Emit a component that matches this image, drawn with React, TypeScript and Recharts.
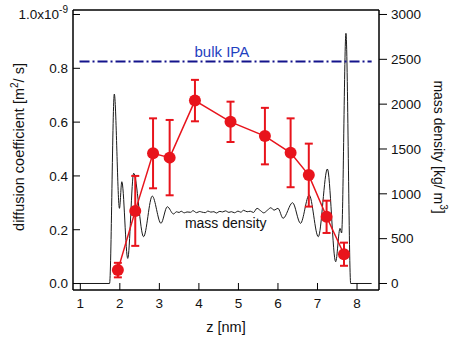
import {
  ComposedChart,
  Line,
  XAxis,
  YAxis,
  ErrorBar,
  Label,
  ReferenceDot,
} from 'recharts'

// diffusion coefficient, units of 1e-9 m^2/s
const Z_DIFF = [1.95, 2.39, 2.84, 3.26, 3.9, 4.8, 5.67, 6.32, 6.78, 7.23, 7.67]
const DIFF = [0.05, 0.27, 0.484, 0.468, 0.68, 0.601, 0.548, 0.486, 0.403, 0.248, 0.109]
const DIFF_ERR = [0.027, 0.13, 0.13, 0.14, 0.077, 0.075, 0.105, 0.128, 0.117, 0.06, 0.043]

// mass density profile, kg/m^3
const Z_DENS = [
  0.95, 1.74, 1.86, 1.99, 2.05, 2.2, 2.35, 2.6, 2.82, 3.04, 3.2, 3.36, 3.43, 3.5, 3.55, 3.63,
  3.7, 3.79, 3.85, 3.94, 4.02, 4.07, 4.16, 4.23, 4.3, 4.38, 4.44, 4.53, 4.6, 4.67, 4.76, 4.82,
  4.9, 4.99, 5.06, 5.13, 5.22, 5.3, 5.38, 5.47, 5.56, 5.64, 5.74, 5.82, 5.9, 6.0, 6.13, 6.37,
  6.57, 6.79, 7.02, 7.25, 7.46, 7.57, 7.61, 7.72, 7.84, 8.37,
]
const DENS = [
  0, 0, 2113, 838, 1135, 280, 1229, 522, 975, 671, 856, 775, 800, 792, 806, 788,
  798, 794, 812, 790, 803, 797, 790, 808, 796, 801, 786, 804, 798, 810, 793, 801,
  789, 807, 795, 816, 800, 806, 792, 838, 812, 788, 820, 845, 818, 838, 727, 901,
  671, 987, 522, 1277, 243, 615, 563, 2790, 0, 0,
]

const BULK_IPA = 0.825
const BULK_RANGE = [0.98, 8.37]

const X_TICKS = [1, 2, 3, 4, 5, 6, 7, 8]
const LEFT_TICKS = [0, 0.2, 0.4, 0.6, 0.8, 1.0]
const RIGHT_TICKS = [0, 500, 1000, 1500, 2000, 2500, 3000]

const diffData = Z_DIFF.map((z, i) => ({ z, d: DIFF[i], err: DIFF_ERR[i] }))
const densData = Z_DENS.map((z, i) => ({ z, rho: DENS[i] }))
const bulkData = BULK_RANGE.map((z) => ({ z, d: BULK_IPA }))

const FONT = '"Liberation Sans", Arial, sans-serif'
const RED = '#e8141c'
const TICK_FS = 13.5

function LeftTick(props: any) {
  const { x, y, payload } = props
  const v = payload.value as number
  if (v === 1) {
    return (
      <text x={x} y={y} dy="0.36em" textAnchor="end" fontSize={TICK_FS} fontFamily={FONT} fill="#111">
        1.0x10
        <tspan dy={-6} fontSize={10}>-9</tspan>
      </text>
    )
  }
  return (
    <text x={x} y={y} dy="0.36em" textAnchor="end" fontSize={TICK_FS} fontFamily={FONT} fill="#111">
      {v.toFixed(1)}
    </text>
  )
}

export default function App() {
  return (
    <div>
      <style>{'body{margin:0}'}</style>
      <ComposedChart width={458} height={341} margin={{ top: 9, right: 0, left: 0, bottom: 0 }}>
        <XAxis
          xAxisId="x"
          type="number"
          dataKey="z"
          domain={[0.815, 8.556]}
          allowDataOverflow
          ticks={X_TICKS}
          height={51}
          tickSize={-7}
          tickMargin={15}
          axisLine={{ stroke: '#000', strokeWidth: 1.5 }}
          tickLine={{ stroke: '#000' }}
          tick={{ fontSize: TICK_FS, fontFamily: FONT, fill: '#111' }}
        >
          <Label
            content={({ viewBox }: any) => (
              <text
                x={viewBox.x + viewBox.width / 2}
                y={327}
                textAnchor="middle"
                dominantBaseline="central"
                fontSize={14.5}
                fontFamily={FONT}
                fill="#111"
              >
                z [nm]
              </text>
            )}
          />
        </XAxis>
        <XAxis
          xAxisId="top"
          orientation="top"
          type="number"
          domain={[0.815, 8.556]}
          allowDataOverflow
          ticks={X_TICKS}
          height={1}
          tickSize={-7}
          tick={false}
          axisLine={{ stroke: '#000', strokeWidth: 1.5 }}
          tickLine={{ stroke: '#000' }}
        />
        <YAxis
          yAxisId="left"
          type="number"
          domain={[-0.024, 1.0167]}
          allowDataOverflow
          ticks={LEFT_TICKS}
          width={73}
          tickSize={-7}
          tickMargin={12}
          axisLine={{ stroke: '#000', strokeWidth: 1.5 }}
          tickLine={{ stroke: '#000' }}
          tick={<LeftTick />}
        >
          <Label
            content={() => (
              <text
                x={19}
                y={147}
                transform="rotate(-90, 19, 147)"
                textAnchor="middle"
                dominantBaseline="central"
                fontSize={14.5}
                fontFamily={FONT}
                fill="#111"
              >
                diffusion coefficient [m
                <tspan dy={-5} fontSize={10}>2</tspan>
                <tspan dy={5}>/ s]</tspan>
              </text>
            )}
          />
        </YAxis>
        <YAxis
          yAxisId="right"
          orientation="right"
          type="number"
          domain={[-72.5, 3050]}
          allowDataOverflow
          ticks={RIGHT_TICKS}
          width={79}
          tickSize={8}
          tickMargin={4}
          axisLine={{ stroke: '#000', strokeWidth: 1.5 }}
          tickLine={{ stroke: '#000' }}
          tick={{ fontSize: TICK_FS, fontFamily: FONT, fill: '#111' }}
        >
          <Label
            content={() => (
              <text
                x={439}
                y={147}
                transform="rotate(90, 439, 147)"
                textAnchor="middle"
                dominantBaseline="central"
                fontSize={14}
                fontFamily={FONT}
                fill="#111"
              >
                mass density [kg/ m
                <tspan dy={-5} fontSize={10}>3</tspan>
                <tspan dy={5}>]</tspan>
              </text>
            )}
          />
        </YAxis>

        <Line
          xAxisId="x"
          yAxisId="right"
          data={densData}
          dataKey="rho"
          type="monotone"
          stroke="#1a1a1a"
          strokeWidth={1}
          dot={false}
          activeDot={false}
          isAnimationActive={false}
        />
        <Line
          xAxisId="x"
          yAxisId="left"
          data={bulkData}
          dataKey="d"
          type="linear"
          stroke="#14148c"
          strokeWidth={2}
          strokeDasharray="10 3 2 3"
          dot={false}
          activeDot={false}
          isAnimationActive={false}
        />
        <Line
          xAxisId="x"
          yAxisId="left"
          data={diffData}
          dataKey="d"
          type="linear"
          stroke={RED}
          strokeWidth={1.5}
          dot={{ r: 6, fill: RED, stroke: 'none' }}
          activeDot={false}
          isAnimationActive={false}
        >
          <ErrorBar dataKey="err" direction="y" width={4} stroke={RED} strokeWidth={2} />
        </Line>

        <ReferenceDot
          xAxisId="x"
          yAxisId="left"
          x={4.58}
          y={0.863}
          r={0}
          fill="none"
          stroke="none"
          label={{ value: 'bulk IPA', position: 'center', fontSize: 15, fontFamily: FONT, fill: '#1f3fc0' }}
        />
        <ReferenceDot
          xAxisId="x"
          yAxisId="left"
          x={4.68}
          y={0.224}
          r={0}
          fill="none"
          stroke="none"
          label={{ value: 'mass density', position: 'center', fontSize: 14, fontFamily: FONT, fill: '#111' }}
        />
      </ComposedChart>
    </div>
  )
}
